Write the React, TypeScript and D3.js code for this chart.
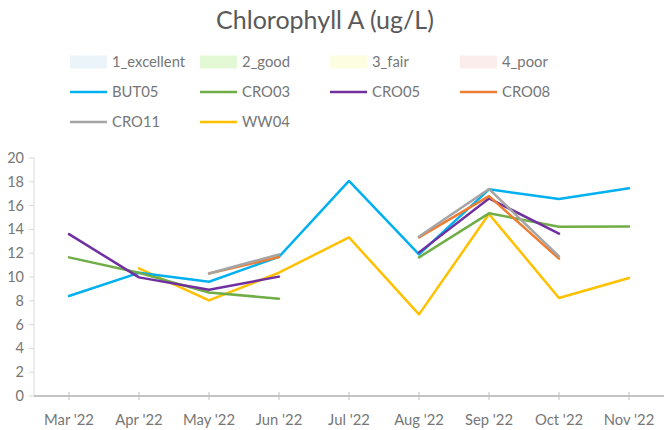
import React from "react";
import * as d3 from "d3";

const months = ["Mar '22", "Apr '22", "May '22", "Jun '22", "Jul '22", "Aug '22", "Sep '22", "Oct '22", "Nov '22"];
const yTicks = [0, 2, 4, 6, 8, 10, 12, 14, 16, 18, 20];

const BUT05 = [8.4, 10.35, 9.6, 11.7, 18.07, 11.9, 17.37, 16.55, 17.45];
const CRO03 = [11.65, 10.35, 8.7, 8.18, null, 11.65, 15.35, 14.23, 14.25];
const CRO05 = [13.6, 9.97, 8.93, 10.03, null, 12.07, 16.6, 13.64, null];
const CRO08 = [null, null, 10.3, 11.68, null, 13.33, 16.8, 11.54, null];
const CRO11 = [null, null, 10.3, 11.9, null, 13.4, 17.4, 11.74, null];
const WW04 = [null, 10.73, 8.04, 10.36, 13.33, 6.86, 15.29, 8.24, 9.92];

const bandNames = ["1_excellent", "2_good", "3_fair", "4_poor"];
const bandColors = ["#EAF4F9", "#E3F9D5", "#FDFDE2", "#FCEDED"];

const seriesNames = ["BUT05", "CRO03", "CRO05", "CRO08", "CRO11", "WW04"];
const seriesData = [BUT05, CRO03, CRO05, CRO08, CRO11, WW04];
const seriesColors = ["#00B0F0", "#70AD47", "#7030A0", "#ED7D31", "#A5A5A5", "#FFC000"];

const FONT = "Lato, 'Open Sans', sans-serif";
const LABEL = "#767676";

export default function App() {
  const W = 665, H = 430;
  const x = d3.scalePoint<string>().domain(months).range([34, 664]).padding(0.5);
  const y = d3.scaleLinear().domain([0, 20]).range([396, 158]);
  const line = d3
    .line<number | null>()
    .defined((d) => d != null)
    .x((_, i) => x(months[i]) as number)
    .y((d) => y(d as number));

  const legendCols = [70, 200, 330, 460];
  const legendRows = [62, 92, 122];
  const legendItems: { kind: "rect" | "line"; name: string; color: string }[] = [
    ...bandNames.map((n, i) => ({ kind: "rect" as const, name: n, color: bandColors[i] })),
    ...seriesNames.map((n, i) => ({ kind: "line" as const, name: n, color: seriesColors[i] })),
  ];

  const drawOrder = [5, 0, 1, 2, 3, 4];

  return (
    <svg width={W} height={H} style={{ position: "absolute", left: 0, top: 0, background: "#fff" }} fontFamily={FONT}>
      <rect x={0} y={0} width={W} height={H} fill="#fff" />
      <text x={325} y={29} textAnchor="middle" fontSize={25} fill="#595959">
        Chlorophyll A (ug/L)
      </text>

      {legendItems.map((it, i) => {
        const cx = legendCols[i % 4];
        const cy = legendRows[Math.floor(i / 4)];
        return (
          <g key={it.name}>
            {it.kind === "rect" ? (
              <rect x={cx} y={cy - 6.5} width={37} height={13} fill={it.color} />
            ) : (
              <line x1={cx} x2={cx + 37} y1={cy} y2={cy} stroke={it.color} strokeWidth={2.5} />
            )}
            <text x={cx + 42} y={cy + 5} fontSize={14.8} fill={LABEL}>
              {it.name}
            </text>
          </g>
        );
      })}

      <line x1={34} x2={34} y1={y(20)} y2={y(0)} stroke="#D9D9D9" strokeWidth={1} />
      {yTicks.map((t) => (
        <g key={t}>
          <line x1={29} x2={34} y1={y(t)} y2={y(t)} stroke="#D9D9D9" />
          <text x={24} y={y(t) + 5} textAnchor="end" fontSize={14.5} fill={LABEL}>
            {t}
          </text>
        </g>
      ))}

      <line x1={34} x2={664} y1={y(0)} y2={y(0)} stroke="#898989" strokeWidth={1.2} />
      {months.map((m) => (
        <g key={m}>
          <line x1={x(m)} x2={x(m)} y1={y(0) - 4} y2={y(0) + 4} stroke="#BFBFBF" />
          <text x={x(m)} y={424.5} textAnchor="middle" fontSize={14.8} fill={LABEL}>
            {m}
          </text>
        </g>
      ))}

      {drawOrder.map((si) => (
        <path
          key={seriesNames[si]}
          d={line(seriesData[si]) || ""}
          fill="none"
          stroke={seriesColors[si]}
          strokeWidth={2.5}
          strokeLinejoin="round"
          strokeLinecap="round"
        />
      ))}
    </svg>
  );
}
